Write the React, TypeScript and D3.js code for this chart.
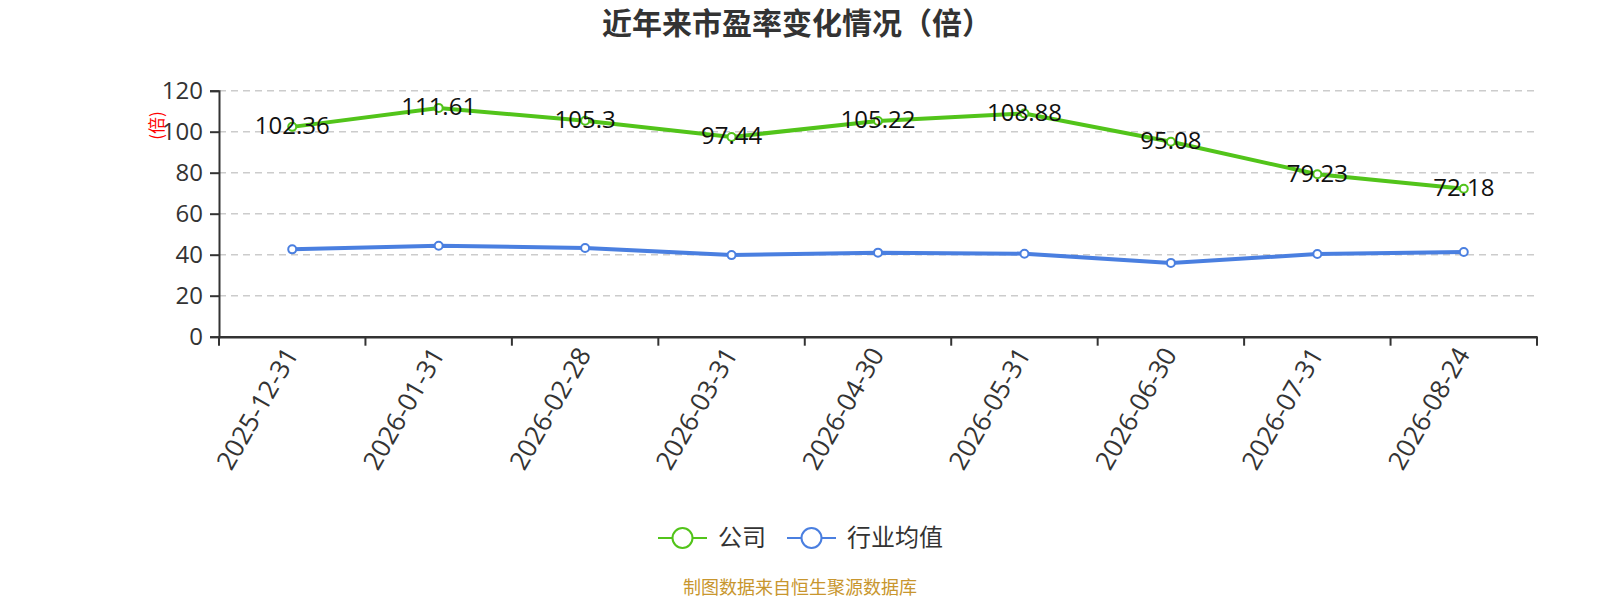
import React, { useEffect, useRef } from "react";
import * as d3 from "d3";

const dates = [
  "2025-12-31",
  "2026-01-31",
  "2026-02-28",
  "2026-03-31",
  "2026-04-30",
  "2026-05-31",
  "2026-06-30",
  "2026-07-31",
  "2026-08-24",
];
const companyPE = [102.36, 111.61, 105.3, 97.44, 105.22, 108.88, 95.08, 79.23, 72.18];
const industryPE = [42.6, 44.4, 43.3, 39.8, 41.0, 40.5, 36.0, 40.3, 41.3];
const yTicks = [0, 20, 40, 60, 80, 100, 120];

const FONT = "'Noto Sans CJK SC', 'Open Sans', sans-serif";
const NUM_FONT = "'Open Sans', 'Noto Sans CJK SC', sans-serif";
const GREEN = "#52c41a";
const BLUE = "#4a7fe0";

export default function App() {
  const svgRef = useRef<SVGSVGElement | null>(null);

  useEffect(() => {
    const width = 1600;
    const height = 600;
    const margin = { top: 90.7, right: 63, bottom: 263.3, left: 219 };
    const innerWidth = width - margin.left - margin.right;
    const innerHeight = height - margin.top - margin.bottom;

    const svg = d3.select(svgRef.current);
    svg.selectAll("*").remove();
    svg.attr("width", width).attr("height", height);

    // Title
    svg
      .append("text")
      .attr("x", 797)
      .attr("y", 23)
      .attr("dy", "0.35em")
      .attr("text-anchor", "middle")
      .attr("font-size", 30)
      .attr("font-weight", "bold")
      .attr("fill", "#333")
      .attr("font-family", FONT)
      .text("近年来市盈率变化情况（倍）");

    const g = svg
      .append("g")
      .attr("transform", `translate(${margin.left},${margin.top})`);

    const x = d3.scaleBand<string>().domain(dates).range([0, innerWidth]);
    const y = d3.scaleLinear().domain([0, 120]).range([innerHeight, 0]);
    const cx = (d: string) => (x(d) as number) + x.bandwidth() / 2;

    // Grid lines
    g.append("g")
      .selectAll("line")
      .data(yTicks.filter((t) => t > 0))
      .join("line")
      .attr("x1", 0)
      .attr("x2", innerWidth)
      .attr("y1", (d) => y(d))
      .attr("y2", (d) => y(d))
      .attr("stroke", "#cccccc")
      .attr("stroke-width", 1.5)
      .attr("stroke-dasharray", "7,5");

    // Y axis
    const yAxis = g
      .append("g")
      .call(d3.axisLeft(y).tickValues(yTicks).tickSize(9).tickPadding(7));
    yAxis.select(".domain").attr("stroke", "#333").attr("stroke-width", 2);
    yAxis.selectAll(".tick line").attr("stroke", "#333").attr("stroke-width", 2);
    yAxis
      .selectAll(".tick text")
      .attr("font-size", 24)
      .attr("fill", "#333")
      .attr("font-family", NUM_FONT);

    // X axis
    const xAxis = g
      .append("g")
      .attr("transform", `translate(0,${innerHeight})`)
      .call(d3.axisBottom(x).tickSize(0).tickSizeOuter(0));
    xAxis.select(".domain").attr("stroke", "#333").attr("stroke-width", 2.5);
    xAxis.selectAll(".tick line").remove();
    xAxis
      .selectAll(".tick text")
      .attr("font-size", 26)
      .attr("fill", "#333")
      .attr("font-family", NUM_FONT)
      .attr("text-anchor", "end")
      .attr("dy", "0.35em")
      .attr("transform", "translate(-1,13) rotate(-60)")
      .attr("y", 0)
      .attr("x", 0);

    // Band boundary ticks
    const boundaries = dates.map((d) => x(d) as number).concat([innerWidth]);
    g.append("g")
      .selectAll("line")
      .data(boundaries)
      .join("line")
      .attr("x1", (d) => d)
      .attr("x2", (d) => d)
      .attr("y1", innerHeight)
      .attr("y2", innerHeight + 9)
      .attr("stroke", "#333")
      .attr("stroke-width", 2);

    // Y axis unit label
    g.append("text")
      .attr("transform", `translate(-62,${y(103)}) rotate(-90)`)
      .attr("text-anchor", "middle")
      .attr("dy", "0.35em")
      .attr("font-size", 17)
      .attr("fill", "red")
      .attr("font-family", FONT)
      .text("(倍)");

    const series = [
      { name: "公司", values: companyPE, color: GREEN, labels: true },
      { name: "行业均值", values: industryPE, color: BLUE, labels: false },
    ];

    series.forEach((s) => {
      const line = d3
        .line<number>()
        .x((_, i) => cx(dates[i]))
        .y((v) => y(v));
      g.append("path")
        .datum(s.values)
        .attr("fill", "none")
        .attr("stroke", s.color)
        .attr("stroke-width", 4)
        .attr("d", line);
      g.append("g")
        .selectAll("circle")
        .data(s.values)
        .join("circle")
        .attr("cx", (_, i) => cx(dates[i]))
        .attr("cy", (v) => y(v))
        .attr("r", 4)
        .attr("fill", "#fff")
        .attr("stroke", s.color)
        .attr("stroke-width", 2);
      if (s.labels) {
        g.append("g")
          .selectAll("text")
          .data(s.values)
          .join("text")
          .attr("x", (_, i) => cx(dates[i]))
          .attr("y", (v) => y(v) - 1)
          .attr("dy", "0.35em")
          .attr("text-anchor", "middle")
          .attr("font-size", 24)
          .attr("fill", "#111")
          .attr("font-family", NUM_FONT)
          .text((v) => String(v));
      }
    });

    // Legend
    const legendItems = [
      { name: "公司", color: GREEN, x: 658 },
      { name: "行业均值", color: BLUE, x: 787 },
    ];
    const legend = svg.append("g").attr("transform", "translate(0,538)");
    legendItems.forEach((it) => {
      const row = legend.append("g").attr("transform", `translate(${it.x},0)`);
      row
        .append("line")
        .attr("x1", 0)
        .attr("x2", 49)
        .attr("y1", 0)
        .attr("y2", 0)
        .attr("stroke", it.color)
        .attr("stroke-width", 2);
      row
        .append("circle")
        .attr("cx", 24.5)
        .attr("cy", 0)
        .attr("r", 10)
        .attr("fill", "#fff")
        .attr("stroke", it.color)
        .attr("stroke-width", 2);
      row
        .append("text")
        .attr("x", 60)
        .attr("y", 0)
        .attr("dy", "0.35em")
        .attr("font-size", 24)
        .attr("fill", "#333")
        .attr("font-family", FONT)
        .text(it.name);
    });

    // Source note
    svg
      .append("text")
      .attr("x", 800)
      .attr("y", 588)
      .attr("dy", "0.35em")
      .attr("text-anchor", "middle")
      .attr("font-size", 18)
      .attr("fill", "#c8962e")
      .attr("font-family", FONT)
      .text("制图数据来自恒生聚源数据库");
  }, []);

  return (
    <svg
      ref={svgRef}
      style={{ position: "absolute", left: 0, top: 0, background: "#fff" }}
    />
  );
}
